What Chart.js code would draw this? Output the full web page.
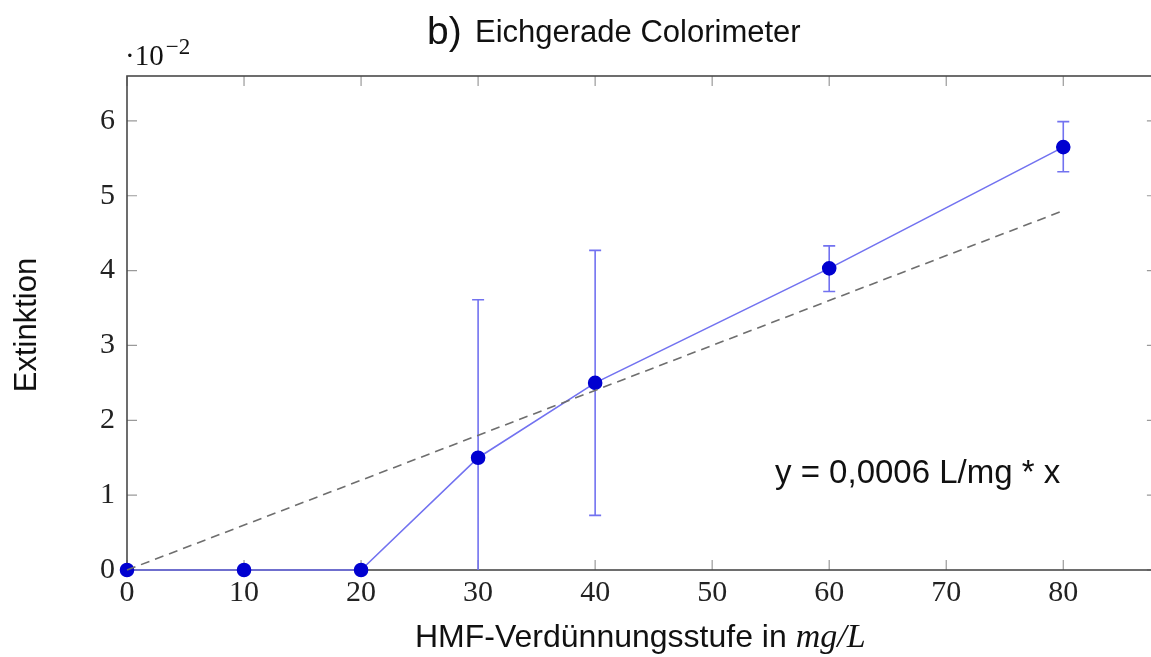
<!DOCTYPE html>
<html>
<head>
<meta charset="utf-8">
<script src="https://cdn.jsdelivr.net/npm/chart.js@4/dist/chart.umd.min.js"></script>
<style>
    html, body { margin: 0; padding: 0; background: #fff; overflow: hidden; }
    #wrap { width: 1165px; height: 657px; }
</style>
</head>
<body>
<div id="wrap"><canvas id="chart"></canvas></div>
<script>

// HMF concentration (mg/L) and extinction (x 10^-2)
const concentrations = [0, 10, 20, 30, 40, 60, 80];
const extinction = [0, 0, 0, 1.5, 2.5, 4.03, 5.65];
const errLow = [null, null, null, -0.6, 0.73, 3.72, 5.32];
const errHigh = [null, null, null, 3.61, 4.27, 4.33, 5.99];

// fitted line y = 0,0006 L/mg * x
const fitX = [0, 80];
const fitY = [0, 4.8];

const xTicks = [0, 10, 20, 30, 40, 50, 60, 70, 80];
const yTicks = [0, 1, 2, 3, 4, 5, 6];

const lineColor = "#7272f0";
const pointColor = "#0000d0";
const sans = "'Liberation Sans', Arial, sans-serif";
const serif = "'Liberation Serif', serif";

const decorPlugin = {
    id: "decor",
    beforeDatasetsDraw(chart) {
        const ctx = chart.ctx;
        const a = chart.chartArea;
        const xs = chart.scales.x;
        const ys = chart.scales.y;
        ctx.save();

        // inward ticks on all four sides
        ctx.strokeStyle = "#9a9a9a";
        ctx.lineWidth = 1.2;
        ctx.beginPath();
        xTicks.forEach(v => {
            const px = xs.getPixelForValue(v);
            ctx.moveTo(px, a.bottom); ctx.lineTo(px, a.bottom - 10);
            ctx.moveTo(px, a.top); ctx.lineTo(px, a.top + 10);
        });
        yTicks.forEach(v => {
            const py = ys.getPixelForValue(v);
            ctx.moveTo(a.left, py); ctx.lineTo(a.left + 10, py);
            ctx.moveTo(a.right, py); ctx.lineTo(a.right - 10, py);
        });
        ctx.stroke();

        // frame
        ctx.strokeStyle = "#4a4a4a";
        ctx.lineWidth = 1.6;
        ctx.strokeRect(a.left, a.top, a.right - a.left, a.bottom - a.top);

        // error bars
        ctx.beginPath();
        ctx.rect(a.left, a.top, a.right - a.left, a.bottom - a.top);
        ctx.clip();
        ctx.strokeStyle = lineColor;
        ctx.lineWidth = 1.6;
        ctx.beginPath();
        concentrations.forEach((c, i) => {
            if (errLow[i] === null) return;
            const px = xs.getPixelForValue(c);
            const lo = ys.getPixelForValue(errLow[i]);
            const hi = ys.getPixelForValue(errHigh[i]);
            ctx.moveTo(px, lo); ctx.lineTo(px, hi);
            ctx.moveTo(px - 6, lo); ctx.lineTo(px + 6, lo);
            ctx.moveTo(px - 6, hi); ctx.lineTo(px + 6, hi);
        });
        ctx.stroke();
        ctx.restore();
    },
    afterDraw(chart) {
        const ctx = chart.ctx;
        ctx.save();
        ctx.fillStyle = "#111";
        ctx.textBaseline = "alphabetic";

        // title
        ctx.font = "39px " + sans;
        ctx.fillText("b)", 427, 44);
        ctx.font = "31px " + sans;
        ctx.fillText("Eichgerade Colorimeter", 475, 42);

        // exponent marker
        ctx.font = "29px " + serif;
        ctx.fillText("\u00b710", 125, 65);
        const wm = ctx.measureText("\u00b710").width;
        ctx.font = "23px " + serif;
        ctx.fillText("\u22122", 125 + wm + 2, 54);

        // x axis title
        ctx.font = "32px " + sans;
        const t1 = "HMF-Verd\u00fcnnungsstufe in ";
        ctx.fillText(t1, 415, 647);
        const w1 = ctx.measureText(t1).width;
        ctx.font = "italic 34px " + serif;
        ctx.fillText("mg/L", 415 + w1, 647);

        // y axis title
        ctx.save();
        ctx.translate(36, 325);
        ctx.rotate(-Math.PI / 2);
        ctx.textAlign = "center";
        ctx.font = "31px " + sans;
        ctx.fillText("Extinktion", 0, 0);
        ctx.restore();

        // equation
        ctx.font = "33px " + sans;
        ctx.fillText("y = 0,0006 L/mg * x", 775, 483);
        ctx.restore();
    }
};

new Chart(document.getElementById("chart"), {
    type: "scatter",
    data: {
        datasets: [
            {
                label: "Fit",
                data: fitX.map((x, i) => ({ x: x, y: fitY[i] })),
                showLine: true,
                borderColor: "#6e6e6e",
                borderWidth: 1.6,
                borderDash: [9, 6],
                pointRadius: 0,
                clip: false
            },
            {
                label: "Extinktion",
                data: concentrations.map((x, i) => ({ x: x, y: extinction[i] })),
                showLine: true,
                borderColor: lineColor,
                borderWidth: 1.6,
                backgroundColor: pointColor,
                pointBackgroundColor: pointColor,
                pointBorderColor: pointColor,
                pointRadius: 6.5,
                clip: false
            }
        ]
    },
    options: {
        responsive: true,
        maintainAspectRatio: false,
        animation: false,
        layout: { padding: { top: 76, right: 8, left: 0, bottom: 0 } },
        plugins: {
            legend: { display: false },
            tooltip: { enabled: false }
        },
        scales: {
            x: {
                type: "linear",
                min: 0,
                max: 88,
                grid: { display: false },
                border: { display: false },
                ticks: {
                    stepSize: 10,
                    includeBounds: false,
                    padding: -3,
                    color: "#222",
                    font: { family: serif, size: 30 }
                },
                afterFit(scale) { scale.height = 87; }
            },
            y: {
                min: 0,
                max: 6.6,
                grid: { display: false },
                border: { display: false },
                ticks: {
                    stepSize: 1,
                    includeBounds: false,
                    padding: 4,
                    color: "#222",
                    font: { family: serif, size: 30 }
                },
                afterFit(scale) { scale.width = 127; }
            }
        }
    },
    plugins: [decorPlugin]
});

</script>
</body>
</html>
